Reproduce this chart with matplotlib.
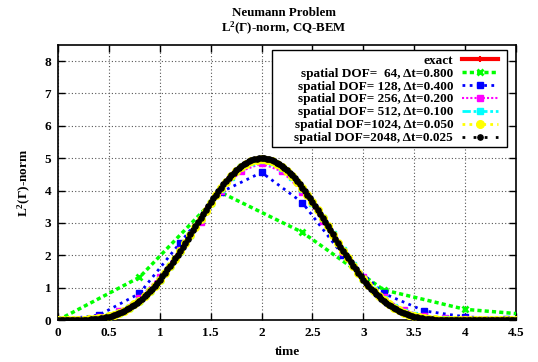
import numpy as np
import matplotlib
matplotlib.use("Agg")
import matplotlib.pyplot as plt
from matplotlib.patches import Rectangle

plt.rcParams['font.family'] = ['Liberation Serif', 'DejaVu Serif']
plt.rcParams['font.weight'] = 'bold'
plt.rcParams['mathtext.fontset'] = 'custom'
plt.rcParams['mathtext.rm'] = 'Liberation Serif:bold'
plt.rcParams['mathtext.bf'] = 'Liberation Serif:bold'
plt.rcParams['mathtext.it'] = 'Liberation Serif:bold:italic'

# ---------------- data ----------------
title_lines = ["Neumann Problem", r"L$^\mathrm{2}$(Γ)-norm, CQ-BEM"]
xlabel = "time"
ylabel = r"L$^\mathrm{2}$(Γ)-norm"
xticks = [0, 0.5, 1, 1.5, 2, 2.5, 3, 3.5, 4, 4.5]
xtick_labels = ["0", "0.5", "1", "1.5", "2", "2.5", "3", "3.5", "4", "4.5"]
yticks = [0, 1, 2, 3, 4, 5, 6, 7, 8]

labels = ["exact",
          "spatial DOF=  64, Δt=0.800",
          "spatial DOF= 128, Δt=0.400",
          "spatial DOF= 256, Δt=0.200",
          "spatial DOF= 512, Δt=0.100",
          "spatial DOF=1024, Δt=0.050",
          "spatial DOF=2048, Δt=0.025"]

t_exact = np.linspace(0, 4.5, 91)
v_exact = [0.000, 0.000, 0.000, 0.001, 0.003, 0.007, 0.015, 0.027, 0.046, 0.072,
           0.107, 0.154, 0.212, 0.285, 0.373, 0.476, 0.597, 0.735, 0.890, 1.062,
           1.250, 1.454, 1.672, 1.902, 2.142, 2.390, 2.643, 2.898, 3.151, 3.401,
           3.643, 3.874, 4.091, 4.290, 4.470, 4.627, 4.758, 4.863, 4.939, 4.985,
           5.000,
           4.985, 4.939, 4.863, 4.758, 4.627, 4.470, 4.290, 4.091, 3.874, 3.643,
           3.401, 3.151, 2.898, 2.643, 2.390, 2.142, 1.902, 1.672, 1.454, 1.250,
           1.062, 0.890, 0.735, 0.597, 0.476, 0.373, 0.285, 0.212, 0.154, 0.107,
           0.072, 0.046, 0.027, 0.015, 0.007, 0.003, 0.001, 0.000, 0.000, 0.000,
           0.000, 0.000, 0.000, 0.000, 0.000, 0.000, 0.000, 0.000, 0.000, 0.000]

t_64 = np.linspace(0, 4.8, 7)
v_64 = [0.00, 1.32, 3.94, 2.71, 0.93, 0.33, 0.12]

t_128 = np.linspace(0, 4.8, 13)
v_128 = [0.00, 0.15, 0.82, 2.39, 3.95, 4.56, 3.63, 2.00, 0.82, 0.28, 0.10, 0.03, 0.01]

t_256 = np.linspace(0, 4.4, 23)
v_256 = [0.000, 0.010, 0.080, 0.270, 0.680, 1.340, 2.160, 3.030, 3.990, 4.600,
         4.840, 4.590, 3.970, 3.060, 2.100, 1.320, 0.700, 0.310, 0.120, 0.050,
         0.020, 0.010, 0.005]

t_512 = np.linspace(0, 4.5, 46)
v_512 = [0.000, 0.001, 0.005, 0.018, 0.050, 0.113, 0.219, 0.378, 0.598, 0.885,
         1.240, 1.655, 2.119, 2.614, 3.118, 3.607, 4.052, 4.428, 4.713, 4.889,
         4.945,
         4.879, 4.700, 4.420, 4.055, 3.623, 3.146, 2.649, 2.158, 1.695, 1.280,
         0.925, 0.635, 0.411, 0.250, 0.142, 0.075, 0.037, 0.017, 0.008, 0.004,
         0.002, 0.001, 0.000, 0.000, 0.000]

t_1024 = np.linspace(0, 4.5, 91)
v_1024 = [0.000, 0.000, 0.000, 0.001, 0.003, 0.008, 0.016, 0.029, 0.048, 0.075,
          0.111, 0.158, 0.217, 0.290, 0.378, 0.481, 0.601, 0.738, 0.891, 1.061,
          1.247, 1.448, 1.663, 1.891, 2.129, 2.375, 2.627, 2.881, 3.134, 3.383,
          3.624, 3.854, 4.069, 4.266, 4.443, 4.597, 4.726, 4.829, 4.904, 4.950,
          4.966,
          4.952, 4.908, 4.835, 4.734, 4.606, 4.453, 4.277, 4.081, 3.866, 3.637,
          3.396, 3.147, 2.894, 2.640, 2.389, 2.143, 1.905, 1.677, 1.461, 1.259,
          1.072, 0.901, 0.747, 0.610, 0.490, 0.386, 0.298, 0.225, 0.166, 0.119,
          0.083, 0.056, 0.036, 0.022, 0.013, 0.007, 0.004, 0.002, 0.001, 0.000,
          0.000, 0.000, 0.000, 0.000, 0.000, 0.000, 0.000, 0.000, 0.000, 0.000]

t_2048 = np.linspace(0, 4.5, 181)
v_2048 = [0.000, 0.000, 0.000, 0.000, 0.000, 0.000, 0.001, 0.002, 0.003, 0.005,
          0.007, 0.011, 0.015, 0.020, 0.027, 0.036, 0.046, 0.058, 0.072, 0.088,
          0.107, 0.129, 0.154, 0.181, 0.212, 0.247, 0.285, 0.327, 0.373, 0.422,
          0.476, 0.534, 0.597, 0.664, 0.735, 0.810, 0.890, 0.973, 1.062, 1.154,
          1.250, 1.350, 1.454, 1.561, 1.672, 1.785, 1.902, 2.021, 2.142, 2.265,
          2.390, 2.516, 2.643, 2.770, 2.898, 3.025, 3.151, 3.277, 3.401, 3.523,
          3.643, 3.760, 3.874, 3.984, 4.091, 4.193, 4.290, 4.383, 4.470, 4.551,
          4.627, 4.696, 4.758, 4.814, 4.863, 4.904, 4.939, 4.965, 4.985, 4.996,
          5.000,
          4.996, 4.985, 4.965, 4.939, 4.904, 4.863, 4.814, 4.758, 4.696, 4.627,
          4.551, 4.470, 4.383, 4.290, 4.193, 4.091, 3.984, 3.874, 3.760, 3.643,
          3.523, 3.401, 3.277, 3.151, 3.025, 2.898, 2.770, 2.643, 2.516, 2.390,
          2.265, 2.142, 2.021, 1.902, 1.785, 1.672, 1.561, 1.454, 1.350, 1.250,
          1.154, 1.062, 0.973, 0.890, 0.810, 0.735, 0.664, 0.597, 0.534, 0.476,
          0.422, 0.373, 0.327, 0.285, 0.247, 0.212, 0.181, 0.154, 0.129, 0.107,
          0.088, 0.072, 0.058, 0.046, 0.036, 0.027, 0.020, 0.015, 0.011, 0.007,
          0.005, 0.003, 0.002, 0.001, 0.000, 0.000, 0.000, 0.000, 0.000, 0.000,
          0.000, 0.000, 0.000, 0.000, 0.000, 0.000, 0.000, 0.000, 0.000, 0.000,
          0.000, 0.000, 0.000, 0.000, 0.000, 0.000, 0.000, 0.000, 0.000, 0.000]

# ---------------- figure ----------------
fig = plt.figure(figsize=(5.38, 3.62), dpi=100)
ax = fig.add_axes([0.108, 0.116, 0.851, 0.760])

fs = 9.5
ax.plot(t_exact, v_exact, color='#ff0000', lw=3, ls='-', marker='+', ms=4, mew=1.5,
        markevery=[45], label=labels[0], zorder=2)
ax.plot(t_64, v_64, color='#00ff00', lw=2.5, ls=(0, (1.2, 0.9)), marker='x', ms=5, mew=2,
        label=labels[1], zorder=3)
ax.plot(t_128, v_128, color='#0000ff', lw=2.0, ls=(0, (1, 1.6)), marker='s', ms=4,
        label=labels[2], zorder=4)
ax.plot(t_256, v_256, color='#ff00ff', lw=1.5, ls=(0, (1, 1)), marker='s', ms=5,
        label=labels[3], zorder=5)
ax.plot(t_512, v_512, color='#00ffff', lw=2.0, ls=(0, (3, 1, 1, 1)), marker='s', ms=4.5,
        label=labels[4], zorder=6)
ax.plot(t_1024, v_1024, color='#ffff00', lw=2.0, ls=(0, (1, 1.5)), marker='o', ms=5.5,
        label=labels[5], zorder=7)
ax.plot(t_2048, v_2048, color='#000000', lw=2.0, ls=(0, (1, 3)), marker='o', ms=3.8,
        label=labels[6], zorder=8)

ax.set_xlim(0, 4.5)
ax.set_ylim(0, 8.5)
ax.set_xticks(xticks)
ax.set_xticklabels(xtick_labels)
ax.set_yticks(yticks)
ax.tick_params(direction='in', length=5, width=1, top=True, right=True,
               labelsize=fs, pad=5)
for lab in ax.get_xticklabels() + ax.get_yticklabels():
    lab.set_fontweight('bold')
ax.grid(True, color='#555555', ls=(0, (1, 2)), lw=0.8)
for s in ax.spines.values():
    s.set_linewidth(1.2)

ax.set_xlabel(xlabel, fontsize=fs, fontweight='bold', labelpad=5)
ax.set_ylabel(ylabel, fontsize=fs, fontweight='bold', labelpad=8)

fig.text(0.527, 0.963, title_lines[0], ha='center', va='center', fontsize=9.3, fontweight='bold')
fig.text(0.527, 0.921, title_lines[1], ha='center', va='center', fontsize=9.3, fontweight='bold')

# legend frame (gnuplot-style key box)
box = Rectangle((0.467, 0.629), 0.980 - 0.467, 0.982 - 0.629, transform=ax.transAxes,
                facecolor='white', edgecolor='black', lw=1.0, zorder=19)
ax.add_patch(box)

leg = ax.legend(loc='upper right', bbox_to_anchor=(0.961, 0.965), markerfirst=False,
                fontsize=fs, frameon=False, borderpad=0, labelspacing=0.05,
                handlelength=2.7, handletextpad=0.7, borderaxespad=0)
leg.set_zorder(20)
for txt in leg.get_texts():
    txt.set_fontweight('bold')

fig.savefig("out.png", dpi=100)
